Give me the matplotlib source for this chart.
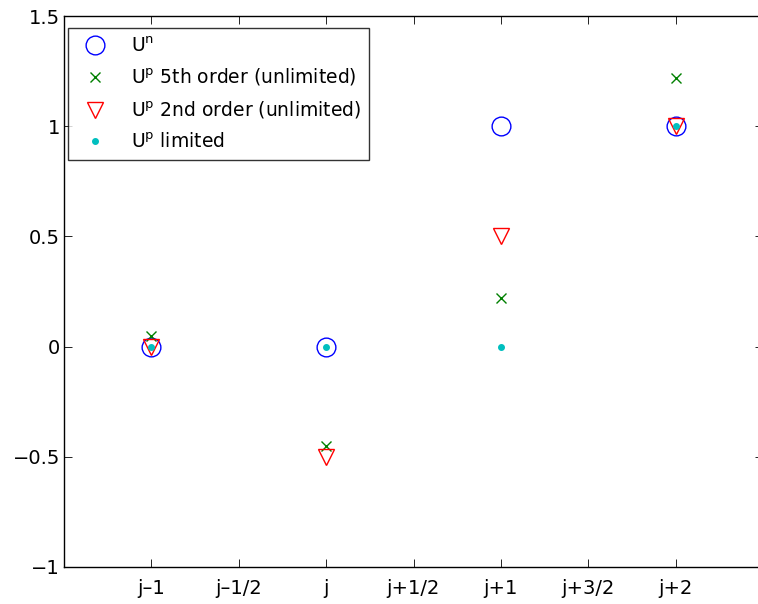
import numpy as np
import matplotlib.pyplot as plt

plt.rcParams['font.family'] = ['DejaVu Sans']
plt.rcParams['mathtext.default'] = 'regular'

# cell positions j-1 .. j+2
x = np.array([1, 2, 3, 4])
u_n = [0, 0, 1, 1]
u_p5 = [0.05, -0.45, 0.22, 1.22]
u_p2 = [0, -0.5, 0.5, 1]
u_lim = [0, 0, 0, 1]

xticks = [1, 1.5, 2, 2.5, 3, 3.5, 4]
xlabels = ['j\u20131', 'j\u20131/2', 'j', 'j+1/2', 'j+1', 'j+3/2', 'j+2']
yticks = [-1, -0.5, 0, 0.5, 1, 1.5]

fig = plt.figure(figsize=(7.58, 6.04), dpi=100)
ax = fig.add_axes([64/758, 37/604, 699/758, 551/604])

ax.plot(x, u_n, 'o', mfc='none', mec='b', ms=13.5, mew=1.0, label='U$^{n}$')
ax.plot(x, u_p5, 'x', color=(0, 0.5, 0), ms=7.5, mew=1.0, label='U$^{p}$ 5th order (unlimited)')
ax.plot(x, u_p2, 'v', mfc='none', mec='r', ms=12, mew=1.0, label='U$^{p}$ 2nd order (unlimited)')
ax.plot(x, u_lim, 'o', color=(0, 0.75, 0.75), ms=4, label='U$^{p}$ limited')

ax.set_xlim(0.5, 4.5)
ax.set_ylim(-1, 1.5)
ax.set_xticks(xticks)
ax.set_xticklabels(xlabels)
ax.set_yticks(yticks)
ax.set_yticklabels(['\u22121', '\u22120.5', '0', '0.5', '1', '1.5'])
ax.tick_params(direction='in', top=True, right=True, length=6, width=0.6,
               labelsize=14)
ax.tick_params(axis='x', pad=9)
ax.tick_params(axis='y', pad=3)
for s in ax.spines.values():
    s.set_linewidth(1.0)

leg = ax.legend(loc='upper left', bbox_to_anchor=(4/699, 1 - 12/551),
                fontsize=13.5, frameon=True, fancybox=False,
                edgecolor='k', borderaxespad=0, handletextpad=0.9,
                labelspacing=0.6, borderpad=0.45, handlelength=2.0)
leg.get_frame().set_linewidth(1.0)

plt.savefig('out.png', dpi=100)
